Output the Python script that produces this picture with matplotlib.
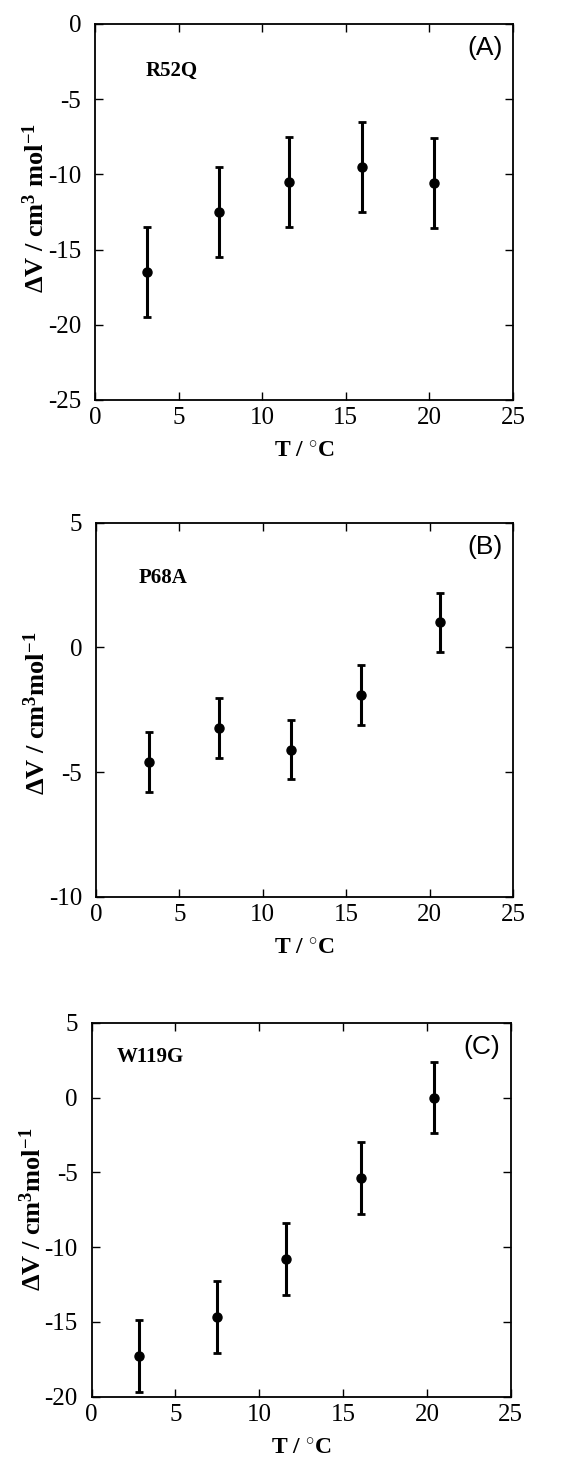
import matplotlib
matplotlib.use("Agg")
import matplotlib.pyplot as plt

# data
temp_a = [3.1, 7.4, 11.6, 16.0, 20.3]
dv_a = [-16.5, -12.5, -10.5, -9.5, -10.6]
err_a = [3.0, 3.0, 3.0, 3.0, 3.0]

temp_b = [3.2, 7.4, 11.7, 15.9, 20.6]
dv_b = [-4.6, -3.25, -4.1, -1.9, 1.0]
err_b = [1.2, 1.2, 1.2, 1.2, 1.2]

temp_c = [2.85, 7.45, 11.6, 16.05, 20.45]
dv_c = [-17.25, -14.65, -10.8, -5.4, 0.0]
err_c = [2.4, 2.4, 2.4, 2.4, 2.4]

names = ["R52Q", "P68A", "W119G"]
tags = ["(A)", "(B)", "(C)"]
ylims = [(-25, 0), (-10, 5), (-20, 5)]
ylabels = [r"$\mathbf{\Delta V}$ / cm$^{\mathbf{3}}$ mol$^{\mathbf{-1}}$",
           r"$\mathbf{\Delta V}$ / cm$^{\mathbf{3}}$mol$^{\mathbf{-1}}$",
           r"$\mathbf{\Delta V}$ / cm$^{\mathbf{3}}$mol$^{\mathbf{-1}}$"]

plt.rcParams["font.family"] = ["Liberation Serif", "DejaVu Serif"]
plt.rcParams["mathtext.fontset"] = "custom"
plt.rcParams["mathtext.rm"] = "Liberation Serif"
plt.rcParams["mathtext.bf"] = "Liberation Serif:bold"
plt.rcParams["mathtext.it"] = "Liberation Serif:italic"
plt.rcParams["axes.unicode_minus"] = False

fig = plt.figure(figsize=(5.87, 14.58), dpi=100)

# axes boxes in figure fractions (left, bottom, width, height)
boxes = [(0.1618, 0.7257, 0.7121, 0.2579),
         (0.1635, 0.3850, 0.7104, 0.2565),
         (0.1562, 0.0420, 0.7138, 0.2565)]
# label text positions (data coords)
name_pos = [(3.05, -3.1), (2.55, 2.8), (1.5, 2.7)]
ylabel_y = [0.51, 0.49, 0.5]

panels = [(temp_a, dv_a, err_a), (temp_b, dv_b, err_b), (temp_c, dv_c, err_c)]

for i, (t, dv, err) in enumerate(panels):
    ax = fig.add_axes(boxes[i])
    ax.errorbar(t, dv, yerr=err, fmt="o", color="black", ms=6.5,
                elinewidth=2.2, capsize=2.8, capthick=2.0)
    ax.set_xlim(0, 25)
    ax.set_ylim(*ylims[i])
    ax.set_xticks(range(0, 26, 5))
    ax.set_yticks(range(ylims[i][0], ylims[i][1] + 1, 5))
    ax.tick_params(direction="in", top=True, right=True, length=6,
                   width=1.0, labelsize=18)
    ax.tick_params(axis="x", pad=5)
    ax.tick_params(axis="y", pad=10)
    for s in ax.spines.values():
        s.set_linewidth(1.3)
    ax.set_xlabel(r"T / $^{\circ}$C", fontsize=17, fontweight="bold", labelpad=9)
    ax.set_ylabel(ylabels[i], fontsize=19, fontweight="bold")
    ax.yaxis.set_label_coords(-0.11, ylabel_y[i])
    ax.text(name_pos[i][0], name_pos[i][1], names[i], fontsize=15,
            fontweight="bold", va="center", ha="left")
    ax.text(0.975, 0.935, tags[i], transform=ax.transAxes, fontsize=19,
            family=["Liberation Sans", "DejaVu Sans"], ha="right", va="center")

fig.savefig("out.png", dpi=100)
